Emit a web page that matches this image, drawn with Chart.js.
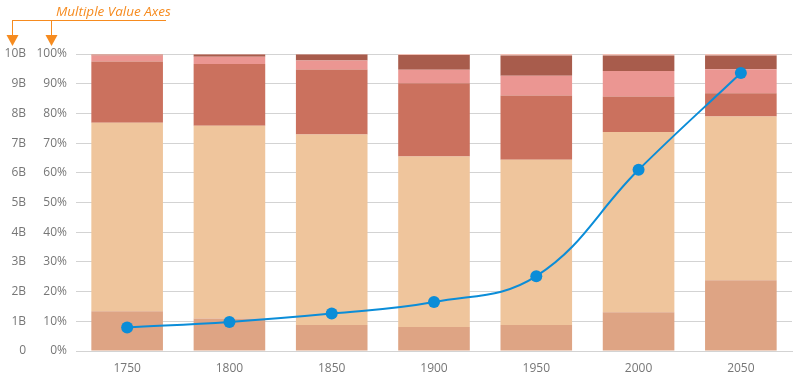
<!DOCTYPE html>
<html>
<head>
<meta charset="utf-8">
<script src="https://cdn.jsdelivr.net/npm/chart.js@4"></script>
<style>
html,body{margin:0;padding:0;background:#fff;}
#wrap{width:800px;height:380px;position:relative;}
</style>
</head>
<body>
<div id="wrap"><canvas id="c" width="800" height="380"></canvas></div>
<script>
// Data (millions of people)
const years = ['1750', '1800', '1850', '1900', '1950', '2000', '2050'];
const africa       = [106, 107, 111, 133, 221, 796, 2232];
const asia         = [502, 635, 809, 947, 1402, 3700, 5160];
const europe       = [163, 203, 276, 408, 547, 730, 729];
const latinAmerica = [16, 24, 38, 74, 167, 520, 757];
const northAmerica = [2, 7, 26, 82, 172, 319, 436];
const oceania      = [2, 2, 2, 6, 13, 32, 46];
// Total population (billions), line on second value axis
const totalPopulation = [0.79, 0.98, 1.26, 1.65, 2.52, 6.1, 9.36];
const percentTicks = ['0%','10%','20%','30%','40%','50%','60%','70%','80%','90%','100%'];
const billionTicks = ['0','1B','2B','3B','4B','5B','6B','7B','8B','9B','10B'];

const regions = [
  {label:'Africa', data:africa, color:'#dea484'},
  {label:'Asia', data:asia, color:'#efc59c'},
  {label:'Europe', data:europe, color:'#cb715e'},
  {label:'Latin America', data:latinAmerica, color:'#eb9692'},
  {label:'North America', data:northAmerica, color:'#a85c4c'},
  {label:'Oceania', data:oceania, color:'#f2c0b5'}
];
const sums = years.map((_, i) => regions.reduce((s, r) => s + r.data[i], 0));

const barSets = regions.map(r => ({
  type:'bar',
  label:r.label,
  data:r.data.map((v, i) => v / sums[i] * 100),
  backgroundColor:r.color,
  borderWidth:0,
  yAxisID:'y',
  stack:'pop',
  categoryPercentage:0.7,
  barPercentage:1.0,
  order:2
}));

const lineSet = {
  type:'line',
  label:'Total',
  data:totalPopulation,
  yAxisID:'y1',
  borderColor:'#0b8dd8',
  backgroundColor:'#0b8dd8',
  borderWidth:2,
  pointRadius:6,
  pointHoverRadius:6,
  pointBorderWidth:0,
  tension:0.4,
  order:1
};

const decor = {
  id:'decor',
  afterDraw(chart){
    const ctx = chart.ctx;
    ctx.save();
    const orange = '#f68b1f';
    ctx.strokeStyle = orange;
    ctx.fillStyle = orange;
    ctx.lineWidth = 1;
    ctx.beginPath();
    ctx.moveTo(12, 20.5); ctx.lineTo(166, 20.5);
    ctx.moveTo(12.5, 20); ctx.lineTo(12.5, 37);
    ctx.moveTo(51.5, 20); ctx.lineTo(51.5, 37);
    ctx.stroke();
    [12.5, 51.5].forEach(x => {
      ctx.beginPath();
      ctx.moveTo(x - 6, 35); ctx.lineTo(x + 6, 35); ctx.lineTo(x, 46);
      ctx.closePath(); ctx.fill();
    });
    ctx.font = 'italic 13.5px "Open Sans", sans-serif';
    ctx.textBaseline = 'alphabetic';
    ctx.textAlign = 'left';
    ctx.fillText('Multiple Value Axes', 56, 16);
    ctx.restore();
  }
};

Chart.defaults.font.family = '"Open Sans", sans-serif';
Chart.defaults.font.size = 12;
Chart.defaults.color = '#767676';

new Chart(document.getElementById('c'), {
  data:{labels:years, datasets:[...barSets, lineSet]},
  options:{
    responsive:false,
    animation:false,
    layout:{padding:{left:0, right:8, top:54, bottom:4}},
    plugins:{legend:{display:false}, tooltip:{enabled:false}, title:{display:false}},
    scales:{
      x:{
        stacked:true,
        afterFit(s){ s.height = 25; },
        grid:{display:false, drawTicks:false},
        border:{display:true, color:'#d3d3d3'},
        ticks:{padding:10}
      },
      y:{
        stacked:true,
        position:'left',
        min:0, max:100,
        weight:1,
        afterFit(s){ s.width = 44; },
        grid:{color:'#d3d3d3', drawTicks:false},
        border:{display:false},
        ticks:{stepSize:10, padding:9, callback:(v, i) => percentTicks[i]}
      },
      y1:{
        position:'left',
        min:0, max:10,
        weight:2,
        afterFit(s){ s.width = 32; },
        grid:{display:false, drawTicks:false},
        border:{display:false},
        ticks:{stepSize:1, padding:6, callback:(v, i) => billionTicks[i]}
      }
    }
  },
  plugins:[decor]
});
</script>
</body>
</html>
